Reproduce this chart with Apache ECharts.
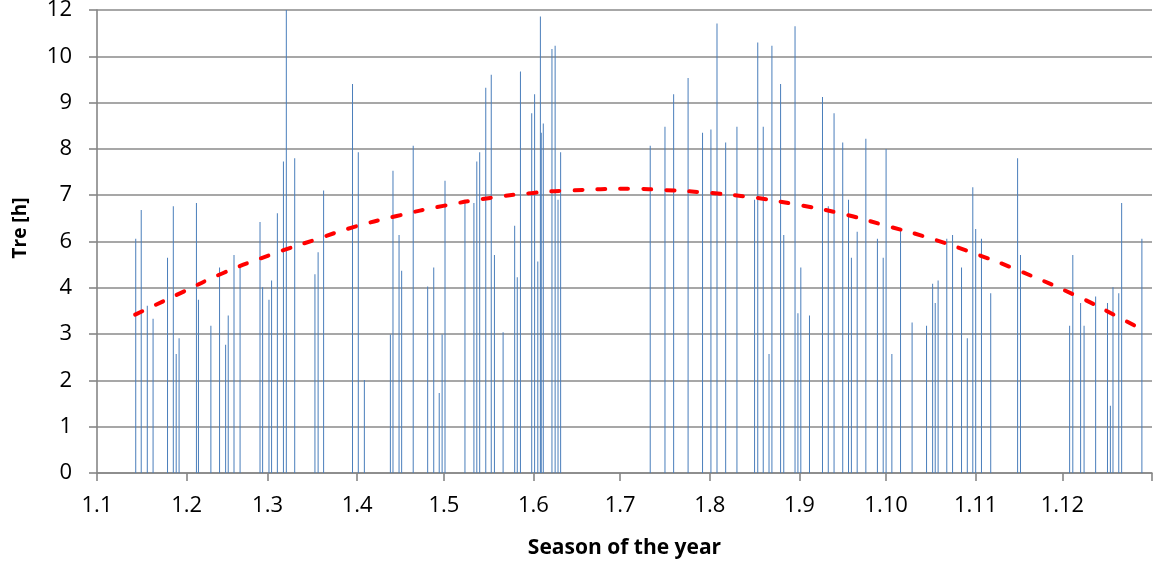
<!DOCTYPE html>
<html>
<head>
<meta charset="utf-8">
<script src="https://cdn.jsdelivr.net/npm/echarts@6/dist/echarts.min.js"></script>
<style>
html,body{margin:0;padding:0;background:#fff;}
#chart{width:1153px;height:562px;}
</style>
</head>
<body>
<div id="chart"></div>
<script>
// x tick labels (day.month) and their positions (day of year where each month starts)
const xTickLabels = ['1.1','1.2','1.3','1.4','1.5','1.6','1.7','1.8','1.9','1.10','1.11','1.12'];
const monthStarts = [0,31,59,90,120,151,181,212,243,273,304,334,365];
// y tick labels as printed on the reference, one per gridline from bottom to top
const yTickLabels = ['0','1','2','3','4','6','7','8','9','10','12'];

// bar positions (day of year) and heights (in gridline units)
const days = [
 13.4,15.3,17.4,19.4,24.4,26.4,27.4,28.4,34.4,35.1,39.4,42.4,44.5,45.4,47.4,49.5,
 56.4,57.3,59.5,60.4,62.4,64.5,65.5,68.4,75.4,76.5,78.4,88.4,90.4,92.5,
 101.5,102.4,104.5,105.4,109.4,114.4,116.5,118.4,119.4,120.4,127.3,130.4,131.4,132.4,
 134.5,136.4,137.5,140.5,144.5,145.4,146.5,150.4,151.4,152.5,153.4,153.7,154.4,157.4,
 158.5,159.5,160.4,
 191.4,196.5,199.5,204.5,209.5,212.4,214.5,217.5,221.4,227.5,228.6,230.5,232.5,233.5,
 236.5,237.6,241.5,242.5,243.5,246.5,251.0,253.0,255.0,258.0,260.0,261.0,263.0,266.0,
 270.0,272.0,273.0,275.0,278.0,282.0,287.0,289.1,290.0,291.0,294.0,296.0,299.1,301.1,
 303.0,304.0,306.0,309.2,318.5,319.5,336.5,337.6,340.3,341.5,345.5,349.6,350.6,351.5,
 353.5,354.5,361.5
];
const hours = [
 5.06,5.68,3.61,3.33,4.65,5.76,2.57,2.91,5.83,3.74,3.18,4.44,2.77,3.40,4.71,4.44,
 5.42,4.01,3.74,4.16,5.61,6.73,10.0,6.80,4.29,4.77,6.10,8.40,6.93,2.01,
 2.99,6.53,5.14,4.37,7.07,4.03,4.44,1.73,2.99,6.31,5.90,5.83,6.73,6.93,
 8.32,8.60,4.71,3.04,5.34,4.23,8.67,7.77,8.18,4.57,9.86,7.35,7.55,9.16,
 9.23,5.90,6.93,
 7.07,7.48,8.18,8.53,7.35,7.42,9.71,7.14,7.48,5.90,9.30,7.48,2.57,9.23,
 8.40,5.14,9.65,3.45,4.44,3.40,8.12,5.76,7.77,7.14,5.90,4.65,5.21,7.22,
 5.06,4.65,7.00,2.57,5.27,3.25,3.18,4.09,3.67,4.16,5.06,5.14,4.44,2.91,
 6.17,5.27,5.06,3.88,6.80,4.71,3.18,4.71,3.67,3.18,3.81,3.67,1.45,4.01,
 3.88,5.83,5.06
];

// trend line
const trendDays = [13.2,28.7,43.7,59.9,76.0,88.7,103.7,119.8,136.0,151.0,163.1,185.5,193.6,209.8,225.9,240.9,257.0,272.0,288.2,303.2,318.2,340.1,355.1,361.8];
const trendHours = [3.42,3.88,4.32,4.71,5.05,5.31,5.55,5.77,5.94,6.05,6.10,6.14,6.12,6.06,5.96,5.81,5.61,5.36,5.07,4.75,4.39,3.79,3.31,3.09];

const barData = days.map((d, i) => [d, hours[i]]);
const trendData = trendDays.map((d, i) => [d, trendHours[i]]);

const FONT = '"Open Sans", "Noto Sans", sans-serif';
const axisGray = '#868686';

const chart = echarts.init(document.getElementById('chart'), null, {renderer: 'canvas'});
chart.setOption({
  animation: false,
  backgroundColor: '#ffffff',
  grid: {left: 97, right: 1, top: 10, bottom: 89, containLabel: false, outerBoundsMode: 'none'},
  xAxis: {
    type: 'value',
    min: 0,
    max: 365,
    name: 'Season of the year',
    nameLocation: 'middle',
    nameGap: 65,
    nameTextStyle: {fontFamily: FONT, fontSize: 21, fontWeight: 'bold', color: '#000'},
    axisLine: {show: true, lineStyle: {color: axisGray, width: 1.6}},
    axisTick: {show: true, length: 8, customValues: monthStarts, lineStyle: {color: axisGray, width: 1.6}},
    axisLabel: {
      customValues: monthStarts.slice(0, 12),
      margin: 22,
      fontFamily: FONT, fontSize: 22, color: '#000',
      formatter: v => xTickLabels[monthStarts.indexOf(v)] || ''
    },
    splitLine: {show: false}
  },
  yAxis: {
    type: 'value',
    min: 0,
    max: 10,
    interval: 1,
    axisLine: {show: true, lineStyle: {color: axisGray, width: 1.6}},
    axisTick: {show: true, length: 8, lineStyle: {color: axisGray, width: 1.6}},
    axisLabel: {
      margin: 25,
      fontFamily: FONT, fontSize: 22, color: '#000',
      formatter: v => yTickLabels[Math.round(v)]
    },
    splitLine: {show: true, lineStyle: {color: '#8a8a8a', width: 1.6}}
  },
  graphic: [{
    type: 'text',
    x: 21, y: 228,
    rotation: Math.PI / 2,
    style: {
      text: 'Tre [h]',
      font: 'bold 19px ' + FONT,
      fill: '#000',
      align: 'center',
      verticalAlign: 'middle'
    }
  }],
  series: [
    {
      type: 'bar',
      data: barData,
      barWidth: 1,
      itemStyle: {color: '#4a7ebb'},
      z: 2
    },
    {
      type: 'line',
      data: trendData,
      smooth: true,
      showSymbol: false,
      symbol: 'none',
      lineStyle: {color: '#ff0000', width: 4, type: [8, 15], cap: 'round'},
      z: 5
    }
  ]
});
</script>
</body>
</html>
